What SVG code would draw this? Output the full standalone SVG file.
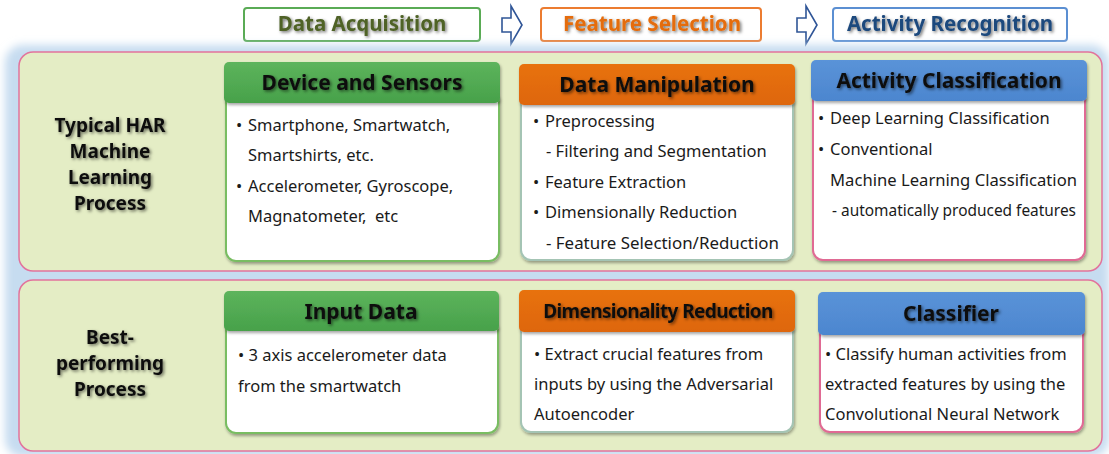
<svg xmlns="http://www.w3.org/2000/svg" width="1109" height="454" viewBox="0 0 1109 454">
  <defs>
    <linearGradient id="gGreen" x1="0" y1="0" x2="0" y2="1">
      <stop offset="0" stop-color="#5db45c"/>
      <stop offset="1" stop-color="#47a14a"/>
    </linearGradient>
    <linearGradient id="gOrange" x1="0" y1="0" x2="0" y2="1">
      <stop offset="0" stop-color="#e8720f"/>
      <stop offset="1" stop-color="#de6609"/>
    </linearGradient>
    <linearGradient id="gBlue" x1="0" y1="0" x2="0" y2="1">
      <stop offset="0" stop-color="#5a93d8"/>
      <stop offset="1" stop-color="#4c86cf"/>
    </linearGradient>
    <filter id="halo" x="-5%" y="-5%" width="110%" height="110%">
      <feGaussianBlur stdDeviation="4"/>
    </filter>
    <filter id="boxShadow" x="-10%" y="-10%" width="120%" height="125%">
      <feDropShadow dx="1" dy="2" stdDeviation="1.8" flood-color="#000" flood-opacity="0.35"/>
    </filter>
    <filter id="textShadow" x="-10%" y="-30%" width="120%" height="160%">
      <feDropShadow dx="1.5" dy="1.5" stdDeviation="1.4" flood-color="#000" flood-opacity="0.55"/>
    </filter>
  </defs>
  <style>
    .stage { fill: #ffffff; stroke-width: 2; }
    .stageText { font-family: "Noto Sans", "Open Sans", sans-serif; font-weight: bold; font-size: 20.5px; text-anchor: middle; filter: url(#textShadow); }
    .panel { fill: #e4edc5; stroke: #e2739c; stroke-width: 1.5; }
    .side { font-family: "Noto Sans", "Open Sans", sans-serif; font-weight: bold; font-size: 19px; fill: #111; text-anchor: middle; filter: url(#textShadow); }
    .body { fill: #ffffff; stroke-width: 2; filter: url(#boxShadow); }
    .head { filter: url(#boxShadow); }
    .title { font-family: "Noto Sans", "Open Sans", sans-serif; font-weight: bold; font-size: 21px; fill: #111; text-anchor: middle; filter: url(#textShadow); }
    .txt { font-family: "Noto Sans", "Open Sans", sans-serif; font-size: 16.5px; fill: #1a1a1a; white-space: pre; }
    .arrow { fill: #ffffff; stroke: #2f5597; stroke-width: 1.6; stroke-linejoin: miter; }
  </style>

  <!-- stage labels -->
  <g id="stage-acquisition">
    <rect class="stage" x="244" y="8" width="236" height="33" rx="3" stroke="#5aab55"/>
    <text class="stageText" x="362" y="31" fill="#4f6228">Data Acquisition</text>
  </g>
  <g id="stage-selection">
    <rect class="stage" x="541" y="8" width="220" height="33" rx="3" stroke="#ec7c30"/>
    <text class="stageText" x="652" y="31" fill="#e46c0a">Feature Selection</text>
  </g>
  <g id="stage-recognition">
    <rect class="stage" x="833" y="8" width="234" height="33" rx="3" stroke="#5b8fd2"/>
    <text class="stageText" x="950" y="31" fill="#1f497d">Activity Recognition</text>
  </g>

  <!-- flow arrows between stages -->
  <g id="connectors">
    <path class="arrow" d="M502,18 H511 V6 L522,25 L511,44 V32 H502 Z"/>
    <path class="arrow" d="M797,18 H806 V6 L817,25 L806,44 V32 H797 Z"/>
  </g>

  <!-- soft blue glow behind the two rows -->
  <rect x="5" y="45" width="1104" height="412" rx="18" fill="#c6dcf0" filter="url(#halo)"/>

  <!-- row 1: typical HAR process -->
  <g id="row-typical">
    <rect class="panel" x="19" y="52" width="1083" height="219" rx="14"/>
    <text class="side" x="110" y="132">Typical HAR</text>
    <text class="side" x="110" y="158">Machine</text>
    <text class="side" x="110" y="184">Learning</text>
    <text class="side" x="110" y="210">Process</text>
  </g>

  <g id="node-device-sensors">
    <rect class="body" x="226" y="92" width="273" height="169" rx="10" stroke="#79bd62"/>
    <rect class="head" x="224" y="62" width="276" height="41" rx="5" fill="url(#gGreen)"/>
    <text class="title" x="362" y="90">Device and Sensors</text>
    <text class="txt" x="236" y="131">•</text>
    <text class="txt" x="248" y="131">Smartphone, Smartwatch,</text>
    <text class="txt" x="248" y="161">Smartshirts, etc.</text>
    <text class="txt" x="236" y="192">•</text>
    <text class="txt" x="248" y="192">Accelerometer, Gyroscope,</text>
    <text class="txt" x="248" y="222">Magnatometer,  etc</text>
  </g>

  <g id="node-data-manipulation">
    <rect class="body" x="521" y="94" width="272" height="166" rx="10" stroke="#a4c4b4"/>
    <rect class="head" x="519" y="64" width="276" height="41" rx="5" fill="url(#gOrange)"/>
    <text class="title" x="657" y="92">Data Manipulation</text>
    <text class="txt" x="533" y="127">•</text>
    <text class="txt" x="545" y="127">Preprocessing</text>
    <text class="txt" x="546" y="157">- Filtering and Segmentation</text>
    <text class="txt" x="533" y="188">•</text>
    <text class="txt" x="545" y="188">Feature Extraction</text>
    <text class="txt" x="533" y="218">•</text>
    <text class="txt" x="545" y="218">Dimensionally Reduction</text>
    <text class="txt" x="546" y="249" textLength="233" lengthAdjust="spacingAndGlyphs">- Feature Selection/Reduction</text>
  </g>

  <g id="node-activity-classification">
    <rect class="body" x="813" y="90" width="272" height="170" rx="10" stroke="#e06a94"/>
    <rect class="head" x="811" y="60" width="276" height="41" rx="5" fill="url(#gBlue)"/>
    <text class="title" x="949" y="88">Activity Classification</text>
    <text class="txt" x="818" y="124">•</text>
    <text class="txt" x="830" y="124">Deep Learning Classification</text>
    <text class="txt" x="818" y="155">•</text>
    <text class="txt" x="830" y="155">Conventional</text>
    <text class="txt" x="830" y="186" textLength="247" lengthAdjust="spacingAndGlyphs">Machine Learning Classification</text>
    <text class="txt" x="832" y="216" textLength="244" lengthAdjust="spacingAndGlyphs">- automatically produced features</text>
  </g>

  <!-- row 2: best-performing process -->
  <g id="row-best">
    <rect class="panel" x="19" y="280" width="1083" height="171" rx="14"/>
    <text class="side" x="110" y="344">Best-</text>
    <text class="side" x="110" y="370">performing</text>
    <text class="side" x="110" y="396">Process</text>
  </g>

  <g id="node-input-data">
    <rect class="body" x="226" y="321" width="272" height="112" rx="10" stroke="#79bd62"/>
    <rect class="head" x="224" y="291" width="275" height="40" rx="5" fill="url(#gGreen)"/>
    <text class="title" x="361" y="319">Input Data</text>
    <text class="txt" x="238" y="361">• 3 axis accelerometer data</text>
    <text class="txt" x="238" y="392">from the smartwatch</text>
  </g>

  <g id="node-dimensionality-reduction">
    <rect class="body" x="521" y="322" width="272" height="110" rx="10" stroke="#a4c4b4"/>
    <rect class="head" x="519" y="290" width="276" height="42" rx="5" fill="url(#gOrange)"/>
    <text class="title" x="658" y="318" style="font-size:19px;letter-spacing:-0.6px">Dimensionality Reduction</text>
    <text class="txt" x="534" y="360">• Extract crucial features from</text>
    <text class="txt" x="534" y="390">inputs by using the Adversarial</text>
    <text class="txt" x="534" y="420">Autoencoder</text>
  </g>

  <g id="node-classifier">
    <rect class="body" x="820" y="324" width="263" height="108" rx="10" stroke="#e06a94"/>
    <rect class="head" x="818" y="292" width="267" height="43" rx="5" fill="url(#gBlue)"/>
    <text class="title" x="951" y="321">Classifier</text>
    <text class="txt" x="825" y="360">• Classify human activities from</text>
    <text class="txt" x="825" y="390">extracted features by using the</text>
    <text class="txt" x="825" y="420">Convolutional Neural Network</text>
  </g>
</svg>
